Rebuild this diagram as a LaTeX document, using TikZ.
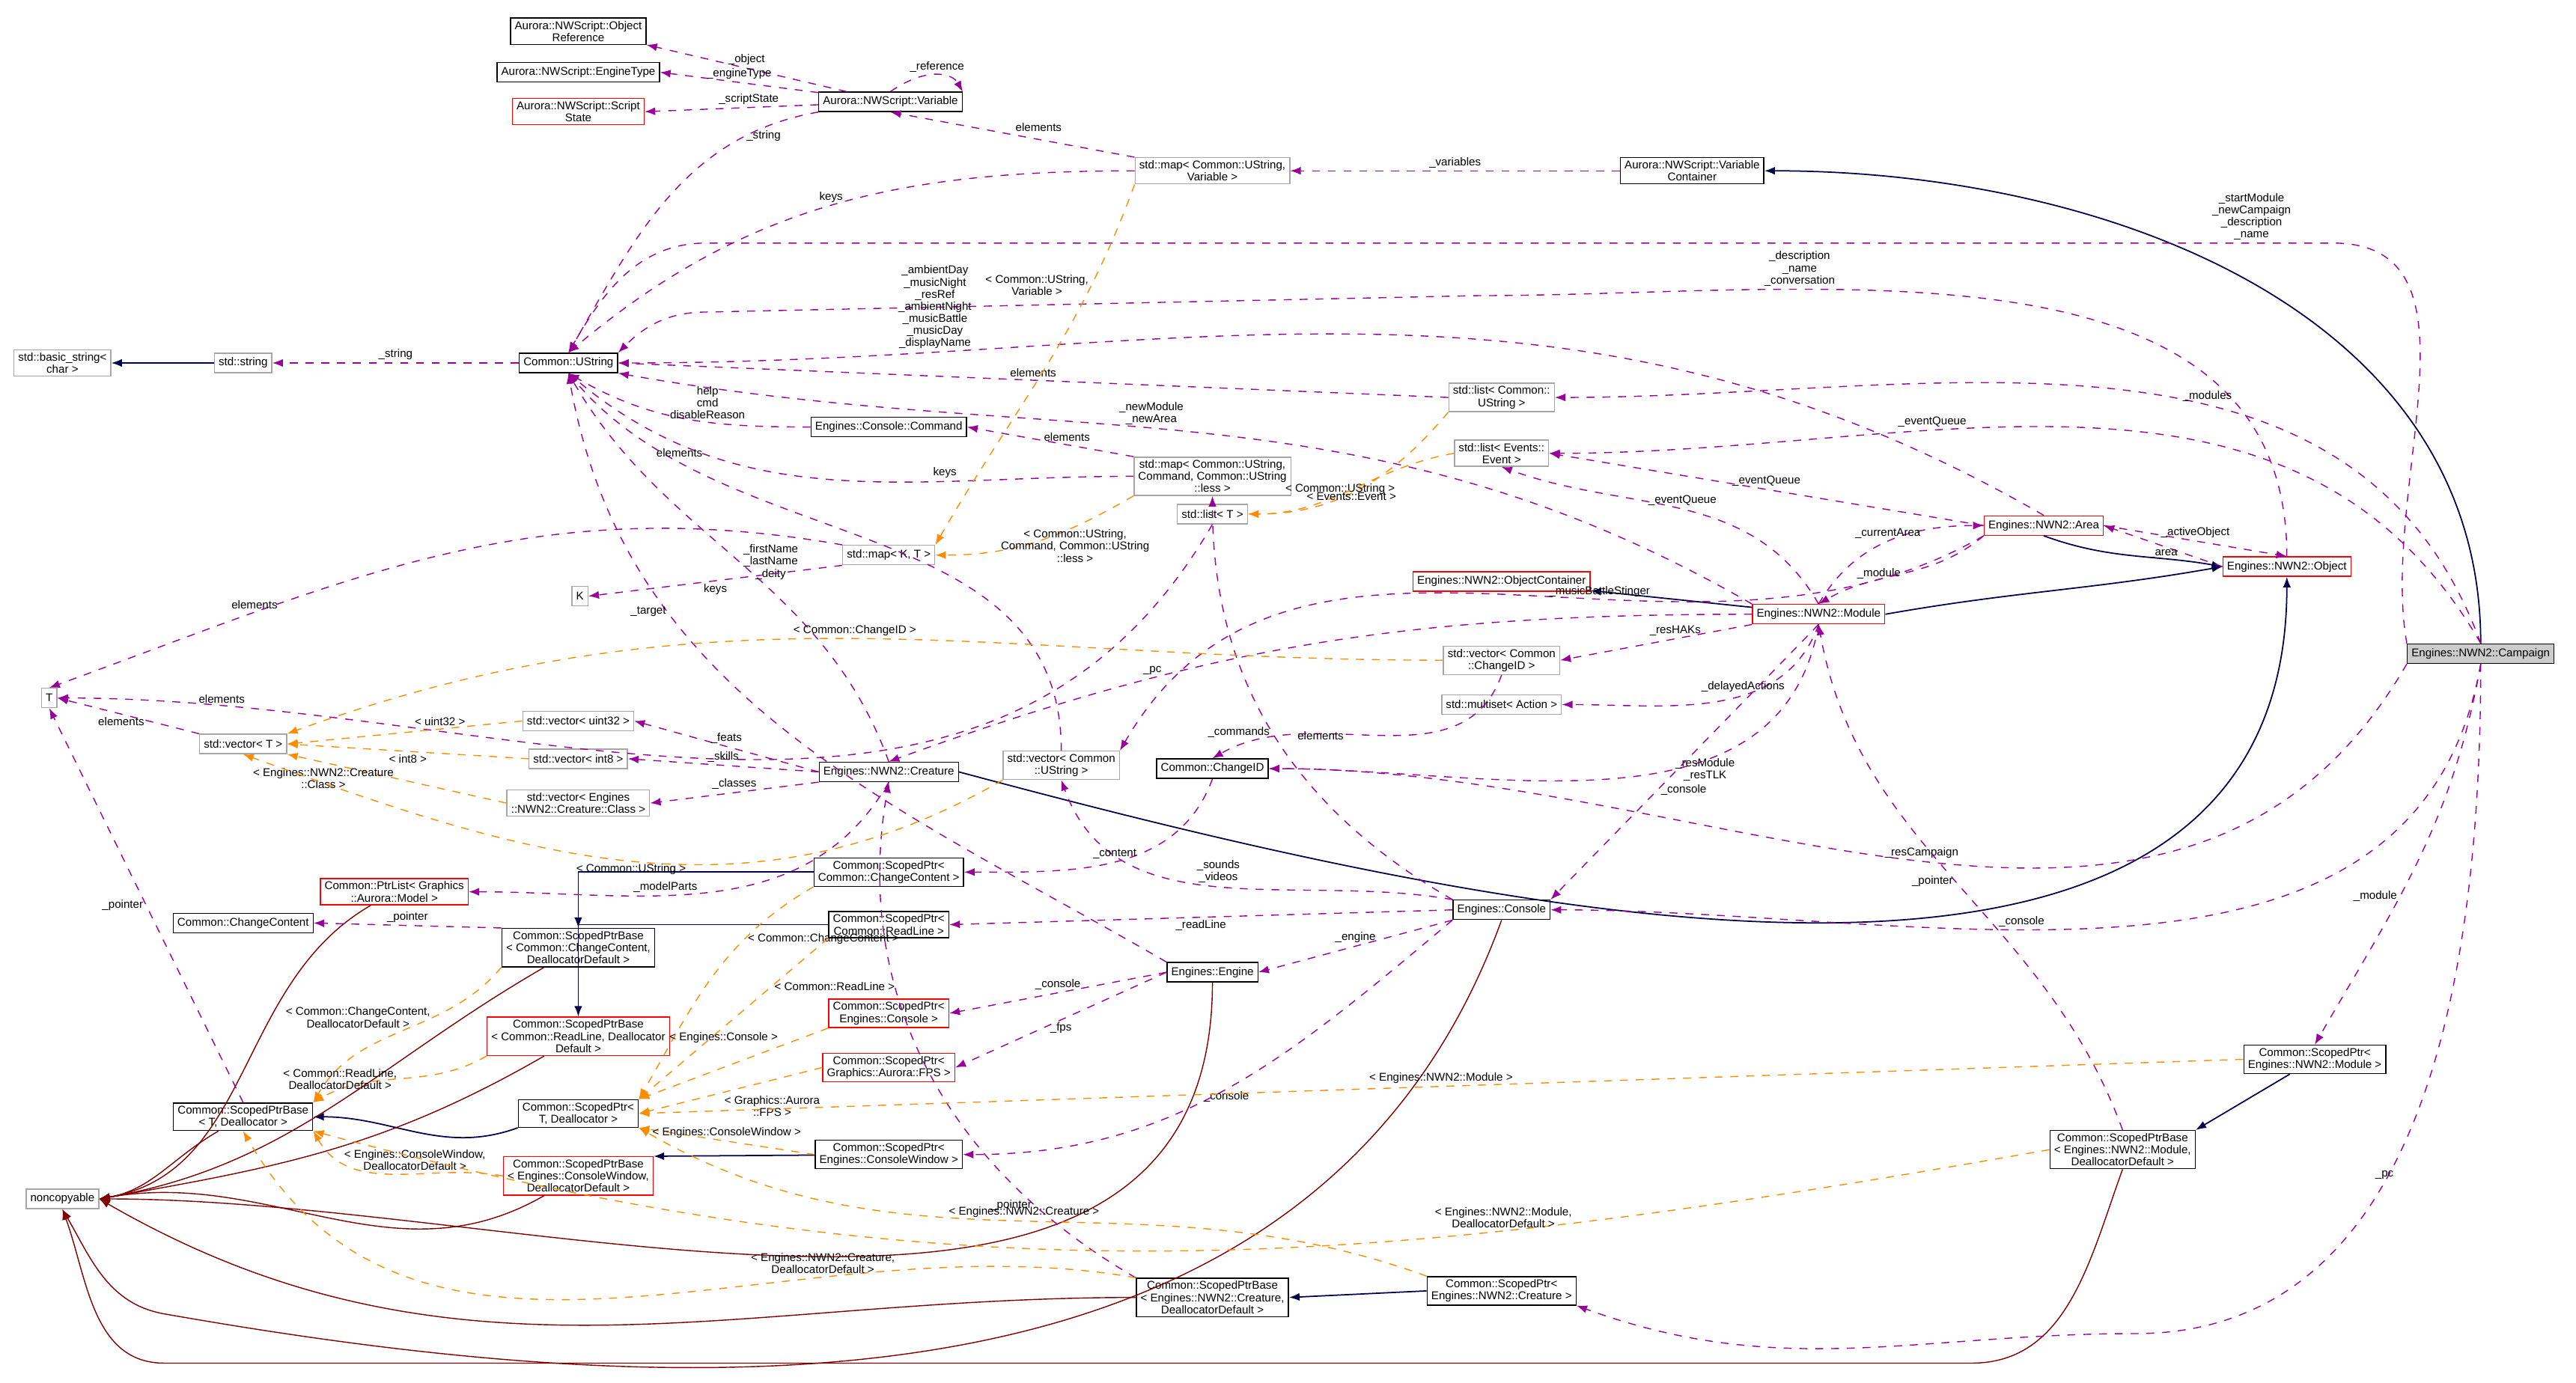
\documentclass[tikz,border=0pt]{standalone}
\usepackage{fontspec}
\setmainfont{Liberation Sans}
\usetikzlibrary{arrows.meta}
\begin{document}
\begin{tikzpicture}[x=0.021945cm, y=-0.021945cm,
font=\fontsize{4.3}{4.6}\selectfont,
cls/.style = {rectangle, draw=black, fill=white, align=center, inner xsep=1.6pt, inner ysep=1.1pt, minimum height=0.26cm},
grc/.style = {cls, draw=gray!70},
redc/.style = {cls, draw=red},
inh/.style = {-{Latex[length=4pt]}, draw=blue!30!black, line width=0.5pt},
use/.style = {-{Latex[length=4pt]}, draw=violet!80!magenta, dashed},
tmpl/.style = {-{Latex[length=4pt]}, draw=orange!90!yellow, dashed},
ncp/.style = {-{Latex[length=4pt]}, draw=red!50!black},
lbl/.style = {font=\fontsize{4.3}{4.6}\selectfont, align=center, inner sep=1pt}]
\useasboundingbox (0,0) rectangle (1568,842);
% classes
\node[cls] at (352,19) (objref) {Aurora::NWScript::Object\\Reference};
\node[cls] at (352,44) (enginetype) {Aurora::NWScript::EngineType};
\node[redc] at (352,68) (scriptstate) {Aurora::NWScript::Script\\State};
\node[cls] at (542,62) (variable) {Aurora::NWScript::Variable};
\node[grc] at (738,104) (mapvar) {std::map< Common::UString,\\Variable >};
\node[cls] at (1030,104) (varcont) {Aurora::NWScript::Variable\\Container};
\node[grc] at (38,221) (basicstr) {std::basic\_string<\\char >};
\node[grc] at (148,221) (stdstr) {std::string};
\node[cls] at (346,221) (ustring) {Common::UString};
\node[grc] at (914,242) (listus) {std::list< Common::\\UString >};
\node[cls] at (541,260) (command) {Engines::Console::Command};
\node[grc] at (914,276) (listev) {std::list< Events::\\Event >};
\node[grc] at (738,290) (mapcmd) {std::map< Common::UString,\\Command, Common::UString\\::less >};
\node[grc] at (738,313) (listt) {std::list< T >};
\node[grc] at (541,338) (mapkt) {std::map< K, T >};
\node[grc] at (353,363) (kk) {K};
\node[redc] at (914,354) (objcont) {Engines::NWN2::ObjectContainer};
\node[redc] at (1244,320) (area) {Engines::NWN2::Area};
\node[redc] at (1107,374) (module) {Engines::NWN2::Module};
\node[redc] at (1392,345) (object) {Engines::NWN2::Object};
\node[cls, fill=gray!40] at (1510,398) (campaign) {Engines::NWN2::Campaign};
\node[grc] at (30,425) (tt) {T};
\node[grc] at (148,453) (vect) {std::vector< T >};
\node[grc] at (914,402) (veccid) {std::vector< Common\\::ChangeID >};
\node[grc] at (914,429) (multiset) {std::multiset< Action >};
\node[grc] at (352,439) (vecu32) {std::vector< uint32 >};
\node[grc] at (352,462) (veci8) {std::vector< int8 >};
\node[grc] at (352,489) (veccls) {std::vector< Engines\\::NWN2::Creature::Class >};
\node[cls] at (541,470) (creature) {Engines::NWN2::Creature};
\node[grc] at (646,466) (vecus) {std::vector< Common\\::UString >};
\node[cls] at (738,468) (changeid) {Common::ChangeID};
\node[redc] at (240,543) (ptrlist) {Common::PtrList< Graphics\\::Aurora::Model >};
\node[cls] at (541,531) (spcc) {Common::ScopedPtr<\\Common::ChangeContent >};
\node[cls] at (148,562) (chcont) {Common::ChangeContent};
\node[cls] at (352,577) (spbcc) {Common::ScopedPtrBase\\< Common::ChangeContent,\\DeallocatorDefault >};
\node[cls] at (541,563) (sprl) {Common::ScopedPtr<\\Common::ReadLine >};
\node[cls] at (914,554) (console) {Engines::Console};
\node[redc] at (352,631) (spbrl) {Common::ScopedPtrBase\\< Common::ReadLine, Deallocator\\Default >};
\node[redc] at (541,617) (spcon) {Common::ScopedPtr<\\Engines::Console >};
\node[cls] at (738,592) (engine) {Engines::Engine};
\node[redc] at (541,650) (spfps) {Common::ScopedPtr<\\Graphics::Aurora::FPS >};
\node[cls] at (352,678) (spt) {Common::ScopedPtr<\\T, Deallocator >};
\node[cls] at (148,680) (spbt) {Common::ScopedPtrBase\\< T, Deallocator >};
\node[cls] at (541,703) (spcw) {Common::ScopedPtr<\\Engines::ConsoleWindow >};
\node[redc] at (352,716) (spbcw) {Common::ScopedPtrBase\\< Engines::ConsoleWindow,\\DeallocatorDefault >};
\node[grc] at (38,730) (noncopy) {noncopyable};
\node[cls] at (1409,645) (spmod) {Common::ScopedPtr<\\Engines::NWN2::Module >};
\node[cls] at (1292,700) (spbmod) {Common::ScopedPtrBase\\< Engines::NWN2::Module,\\DeallocatorDefault >};
\node[cls] at (738,790) (spbcre) {Common::ScopedPtrBase\\< Engines::NWN2::Creature,\\DeallocatorDefault >};
\node[cls] at (914,786) (spcre) {Common::ScopedPtr<\\Engines::NWN2::Creature >};
% inheritance
\draw[inh] (campaign.north) to[out=90,in=0] (varcont.east);
\draw[inh] (stdstr) -- (basicstr);
\draw[inh] (module) -- (objcont);
\draw[inh] (module.east) to[out=10,in=190] (object.west);
\draw[inh] (area.south) to[out=-20,in=170] (object.west);
\draw[inh] (creature.east) to[out=-15,in=-90] (object.south);
\draw[inh] (spcc.west) -| (spbcc.north);
\draw[inh] (sprl.west) -| (spbrl.north);
\draw[inh] (spt.south west) to[out=-160,in=0] (spbt.east);
\draw[inh] (spcw) -- (spbcw.north east);
\draw[inh] (spmod) -- (spbmod.north east);
\draw[inh] (spcre.west) -- (spbcre.east);
% noncopyable
\foreach \src in {ptrlist, spbcc, spbrl, spbt, spbcw}
  \draw[ncp] (\src) to[out=-150,in=10] (noncopy.east);
\draw[ncp] (engine.south) to[out=-90,in=0] (noncopy.east);
\draw[ncp] (spbcre.west) to[out=180,in=-30] (noncopy.east);
\draw[ncp] (console.south) to[out=-110,in=-10] (100,800) to[out=170,in=-60] (noncopy.south);
\draw[ncp] (spbmod.south) to[out=-110,in=0] (1200,830) -- (100,830) to[out=180,in=-70] (noncopy.south);
% usage
\draw[use] (variable) -- node[lbl, pos=0.5, above] {\_object} (objref.south east);
\draw[use] (variable) -- node[lbl, pos=0.5, above] {\_engineType} (enginetype.east);
\draw[use] (variable) -- node[lbl, pos=0.4, above] {\_scriptState} (scriptstate.east);
\draw[use] (variable.north) .. controls (565,40) and (580,45) .. node[lbl, above] {\_reference} (variable.north east);
\draw[use] (variable.south west) to[out=-170,in=60] node[lbl, pos=0.15, below] {\_string} (ustring.north);
\draw[use] (mapvar.north west) -- node[lbl, pos=0.5, above right] {elements} (variable.south);
\draw[use] (mapvar.west) to[out=180,in=40] node[lbl, pos=0.5, above] {keys} (ustring.north);
\draw[use] (varcont.west) -- node[lbl, above] {\_variables} (mapvar.east);
\draw[use] (ustring) -- node[lbl, above] {\_string} (stdstr);
\draw[use] (campaign.north west) to[out=100,in=0] (1420,148) -- node[lbl, pos=0.05, above] {\_startModule\\\_newCampaign\\\_description\\\_name} (430,148) to[out=180,in=60] (ustring.north);
\draw[use] (object.north) to[out=90,in=0] node[lbl, pos=0.7, above] {\_description\\\_name\\\_conversation} (900,180) -- (430,190) to[out=180,in=45] (ustring.north east);
\draw[use] (area.north) to[out=150,in=0] node[lbl, pos=0.8, above] {\_ambientDay\\\_musicNight\\\_resRef\\\_ambientNight\\\_musicBattle\\\_musicDay\\\_displayName} (ustring.east);
\draw[use] (listus.west) -- node[lbl, pos=0.5, above] {elements} (ustring.east);
\draw[use] (module.north west) to[out=150,in=-10] node[lbl, pos=0.55, above] {\_newModule\\\_newArea} (ustring.south east);
\draw[use] (campaign.north) to[out=110,in=0] node[lbl, pos=0.4, above] {\_modules} (listus.east);
\draw[use] (command.west) to[out=180,in=-30] node[lbl, pos=0.4, above] {help\\cmd\\disableReason} (ustring.south);
\draw[use] (mapcmd.north west) -- node[lbl, pos=0.4, above] {elements} (command.east);
\draw[use] (mapcmd.west) to[out=180,in=-40] node[lbl, pos=0.3, above] {keys} (ustring.south);
\draw[use] (campaign.north) to[out=120,in=0] node[lbl, pos=0.65, above] {\_eventQueue} (listev.east);
\draw[use] (area.west) -- node[lbl, pos=0.5, above] {\_eventQueue} (listev.east);
\draw[use] (module.north) to[out=120,in=-20] node[lbl, pos=0.5, above] {\_eventQueue} (listev.south);
\draw[use] (vecus.north) to[out=90,in=-50] node[lbl, pos=0.8, above] {elements} (ustring.south);
\draw[use] (creature.north) to[out=110,in=-60] node[lbl, pos=0.5, right] {\_firstName\\\_lastName\\\_deity} (ustring.south);
\draw[use] (mapkt.south west) -- node[lbl, pos=0.5, below] {keys} (kk.east);
\draw[use] (mapkt.north west) to[out=170,in=20] node[lbl, pos=0.75, above] {elements} (tt.north);
\draw[use] (listt.south) to[out=-120,in=0] node[lbl, pos=0.88, above] {elements} (tt.east);
\draw[use] (vect.north west) -- node[lbl, pos=0.55, below] {elements} (tt.east);
\draw[use] (module.north) to[out=60,in=180] node[lbl, pos=0.5, above] {\_currentArea} (area.west);
\draw[use] (area.south west) to[out=-140,in=30] node[lbl, pos=0.5, left] {\_module} (module.north);
\draw[use] (area.east) -- node[lbl, above] {\_activeObject} (object.north);
\draw[use] (object.west) -- node[lbl, below] {\_area} (area.east);
\draw[use] (area.south west) to[out=-150,in=60] node[lbl, pos=0.4, above] {\_musicBattleStinger} (vecus.north east);
\draw[use] (module.west) to[out=180,in=20] node[lbl, pos=0.7, above] {\_pc} (creature.north);
\draw[use] (module.south west) -- node[lbl, pos=0.4, above] {\_resHAKs} (veccid.east);
\draw[use] (module.south) to[out=-110,in=0] node[lbl, pos=0.4, above] {\_delayedActions} (multiset.east);
\draw[use] (module.south) to[out=-100,in=0] node[lbl, pos=0.4, right] {\_resModule\\\_resTLK} (changeid.east);
\draw[use] (module.south) -- node[lbl, pos=0.6, right] {\_console} (console.north east);
\draw[use] (veccid.south) to[out=-110,in=30] node[lbl, pos=0.6, left] {elements} (changeid.north);
\draw[use] (campaign.south west) to[out=-120,in=0] node[lbl, pos=0.5, above] {\_resCampaign} (changeid.east);
\draw[use] (console.north west) to[out=150,in=-90] node[lbl, pos=0.5, left] {\_commands} (mapcmd.south);
\draw[use] (console.north west) to[out=170,in=-70] node[lbl, pos=0.5, above] {\_sounds\\\_videos} (vecus.south);
\draw[use] (changeid.south) to[out=-110,in=0] node[lbl, pos=0.4, left] {\_content} (spcc.east);
\draw[use] (campaign.south) to[out=-100,in=0] node[lbl, pos=0.6, above] {\_console} (console.east);
\draw[use] (console.west) -- node[lbl, pos=0.5, below] {\_readLine} (sprl.east);
\draw[use] (console.south west) -- node[lbl, pos=0.5, above] {\_engine} (engine.east);
\draw[use] (console.south west) to[out=-140,in=0] node[lbl, pos=0.5, below] {\_console} (spcw.east);
\draw[use] (engine.west) -- node[lbl, above] {\_console} (spcon.east);
\draw[use] (engine.west) -- node[lbl, below] {\_fps} (spfps.east);
\draw[use] (engine.north west) to[out=150,in=-80] node[lbl, pos=0.7, left] {\_target} (ustring.south);
\draw[use] (creature.west) -- node[lbl, above] {\_feats} (vecu32.east);
\draw[use] (creature.west) -- node[lbl, above] {\_skills} (veci8.east);
\draw[use] (creature.south west) -- node[lbl, above] {\_classes} (veccls.east);
\draw[use] (creature.south) to[out=-120,in=0] node[lbl, pos=0.6, above] {\_modelParts} (ptrlist.east);
\draw[use] (spbcc.north west) -- node[lbl, above] {\_pointer} (chcont.east);
\draw[use] (spbt.north) -- node[lbl, pos=0.5, left] {\_pointer} (tt.south);
\draw[use] (spbcre.north west) to[out=150,in=-100] node[lbl, pos=0.2, left] {\_pointer} (creature.south);
\draw[use] (spbmod.north) to[out=110,in=-80] node[lbl, pos=0.5, left] {\_pointer} (module.south);
\draw[use] (campaign.south) to[out=-100,in=60] node[lbl, pos=0.6, left] {\_module} (spmod.north);
\draw[use] (campaign.south) to[out=-90,in=0] node[lbl, pos=0.6, above] {\_pc} (1300,812) to[out=180,in=-20] (spcre.south east);
% template instances
\draw[tmpl] (mapvar.south west) to[out=-110,in=60] node[lbl, pos=0.25, left] {< Common::UString,\\Variable >} (mapkt.north east);
\draw[tmpl] (mapcmd.south west) to[out=-150,in=0] node[lbl, pos=0.3, below] {< Common::UString,\\Command, Common::UString\\::less >} (mapkt.east);
\draw[tmpl] (listus.south west) to[out=-130,in=0] node[lbl, pos=0.6, above] {< Common::UString >} (listt.east);
\draw[tmpl] (listev.west) to[out=-170,in=0] node[lbl, pos=0.5, below] {< Events::Event >} (listt.east);
\draw[tmpl] (veccid.west) to[out=180,in=20] node[lbl, pos=0.5, above] {< Common::ChangeID >} (vect.north east);
\draw[tmpl] (vecu32.west) -- node[lbl, pos=0.35, above] {< uint32 >} (vect.east);
\draw[tmpl] (veci8.west) -- node[lbl, below] {< int8 >} (vect.east);
\draw[tmpl] (veccls.west) -- node[lbl, pos=0.5, left] {< Engines::NWN2::Creature\\::Class >} (vect.south east);
\draw[tmpl] (vecus.south west) to[out=-150,in=-20] node[lbl, pos=0.5, below] {< Common::UString >} (vect.south);
\draw[tmpl] (spcc.south west) to[out=-150,in=60] node[lbl, pos=0.3, right] {< Common::ChangeContent >} (spt.north east);
\draw[tmpl] (sprl.south west) -- node[lbl, pos=0.3, right] {< Common::ReadLine >} (spt.north east);
\draw[tmpl] (spcon.south west) -- node[lbl, pos=0.25, above left] {< Engines::Console >} (spt.north east);
\draw[tmpl] (spfps.west) -- node[lbl, pos=0.55, below right] {< Graphics::Aurora\\::FPS >} (spt.east);
\draw[tmpl] (spcw.west) -- node[lbl, pos=0.5, above] {< Engines::ConsoleWindow >} (spt.south east);
\draw[tmpl] (spmod.west) -- node[lbl, pos=0.5, above] {< Engines::NWN2::Module >} (spt.east);
\draw[tmpl] (spcre.north west) to[out=160,in=-30] node[lbl, pos=0.5, above] {< Engines::NWN2::Creature >} (spt.south east);
\draw[tmpl] (spbcc.south west) to[out=-130,in=60] node[lbl, pos=0.35, left] {< Common::ChangeContent,\\DeallocatorDefault >} (spbt.north east);
\draw[tmpl] (spbrl.south west) to[out=-150,in=30] node[lbl, pos=0.5, left] {< Common::ReadLine,\\DeallocatorDefault >} (spbt.north east);
\draw[tmpl] (spbcw.west) to[out=170,in=-60] node[lbl, pos=0.4, above] {< Engines::ConsoleWindow,\\DeallocatorDefault >} (spbt.south east);
\draw[tmpl] (spbmod.west) to[out=190,in=-15] node[lbl, pos=0.3, above] {< Engines::NWN2::Module,\\DeallocatorDefault >} (spbt.south east);
\draw[tmpl] (spbcre.north west) to[out=170,in=-60] node[lbl, pos=0.3, above] {< Engines::NWN2::Creature,\\DeallocatorDefault >} (spbt.south);
\end{tikzpicture}
\end{document}
